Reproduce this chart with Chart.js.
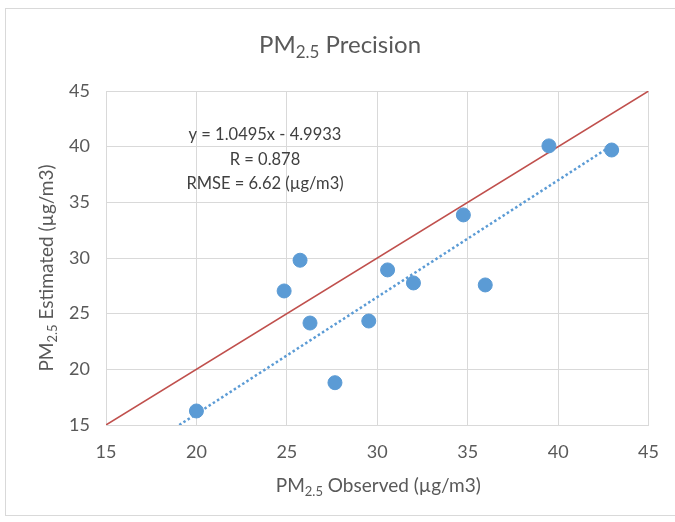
<!DOCTYPE html>
<html>
<head>
<meta charset="utf-8">
<script src="https://cdn.jsdelivr.net/npm/chart.js@4"></script>
<style>
  html, body { margin: 0; padding: 0; background: #fff; }
  #wrap { position: relative; width: 675px; height: 522px; }
</style>
</head>
<body>
<div id="wrap"><canvas id="chart" width="675" height="522"></canvas></div>
<script>
// PM2.5 observed vs estimated
var observed  = [20.0, 24.85, 25.73, 26.28, 27.66, 29.53, 30.57, 32.0, 34.76, 35.97, 39.49, 42.96];
var estimated = [16.26, 27.04, 29.8, 24.16, 18.8, 24.34, 28.93, 27.76, 33.87, 27.58, 40.07, 39.7];

// linear fit as printed on the chart
var fitSlope = 1.0495;
var fitIntercept = -4.9933;
var fitRange = [19.05, 43.0];

// 1:1 line
var oneToOne = [15, 45];

var axisTicks = [15, 20, 25, 30, 35, 40, 45];
var noteLines = ['y = 1.0495x - 4.9933', 'R = 0.878', 'RMSE = 6.62 (µg/m3)'];

var FONT = 'Lato, "Open Sans", sans-serif';
var GREY = '#595959';

// draws a string with "PM" followed by a 2.5 subscript
function drawSubText(ctx, before, sub, after, x, y, size) {
  ctx.font = size + 'px ' + FONT;
  var subSize = Math.round(size * 0.7);
  var w1 = ctx.measureText(before).width;
  var w3 = ctx.measureText(after).width;
  ctx.font = subSize + 'px ' + FONT;
  var w2 = ctx.measureText(sub).width;
  var start = x - (w1 + w2 + w3) / 2;
  ctx.textAlign = 'left';
  ctx.textBaseline = 'middle';
  ctx.font = size + 'px ' + FONT;
  ctx.fillText(before, start, y);
  ctx.font = subSize + 'px ' + FONT;
  ctx.fillText(sub, start + w1, y + size * 0.3);
  ctx.font = size + 'px ' + FONT;
  ctx.fillText(after, start + w1 + w2, y);
}

var textPlugin = {
  id: 'texts',
  beforeDraw: function (chart) {
    var ctx = chart.ctx;
    ctx.save();
    ctx.fillStyle = '#fff';
    ctx.fillRect(0, 0, chart.width, chart.height);
    ctx.strokeStyle = '#d9d9d9';
    ctx.lineWidth = 1;
    ctx.strokeRect(5.5, 8.5, 700, 507);
    ctx.restore();
  },
  afterDraw: function (chart) {
    var ctx = chart.ctx;
    var area = chart.chartArea;
    ctx.save();
    ctx.fillStyle = GREY;
    drawSubText(ctx, 'PM', '2.5', ' Precision', 340, 45, 24);
    drawSubText(ctx, 'PM', '2.5', ' Observed (µg/m3)', (area.left + area.right) / 2 + 1, 486, 19);

    ctx.save();
    ctx.translate(47, (area.top + area.bottom) / 2 + 10);
    ctx.rotate(-Math.PI / 2);
    drawSubText(ctx, 'PM', '2.5', ' Estimated (µg/m3)', 0, 0, 19);
    ctx.restore();

    ctx.fillStyle = '#404040';
    ctx.font = '16.5px ' + FONT;
    ctx.textAlign = 'center';
    ctx.textBaseline = 'middle';
    noteLines.forEach(function (line, i) {
      ctx.fillText(line, 265, 135 + i * 24.5);
    });
    ctx.restore();
  }
};

window.addEventListener('load', function () {
  var points = observed.map(function (x, i) { return { x: x, y: estimated[i] }; });
  var fitPoints = fitRange.map(function (x) { return { x: x, y: fitSlope * x + fitIntercept }; });
  var diagPoints = oneToOne.map(function (v) { return { x: v, y: v }; });

  new Chart(document.getElementById('chart'), {
    type: 'scatter',
    data: {
      datasets: [
        {
          label: 'PM2.5',
          data: points,
          backgroundColor: '#5b9bd5',
          borderColor: '#5b9bd5',
          pointRadius: 7,
          pointHoverRadius: 7,
          order: 0
        },
        {
          label: 'Linear fit',
          data: fitPoints,
          showLine: true,
          borderColor: '#5b9bd5',
          borderWidth: 2.5,
          borderDash: [2.5, 2.5],
          pointRadius: 0,
          order: 1
        },
        {
          label: '1:1',
          data: diagPoints,
          showLine: true,
          borderColor: '#c0504d',
          borderWidth: 1.5,
          pointRadius: 0,
          order: 2
        }
      ]
    },
    plugins: [textPlugin],
    options: {
      responsive: false,
      animation: false,
      layout: { padding: { left: 0, right: 24, top: 91, bottom: 0 } },
      plugins: {
        legend: { display: false },
        tooltip: { enabled: false }
      },
      scales: {
        x: {
          type: 'linear',
          min: 15,
          max: 45,
          afterBuildTicks: function (scale) {
            scale.ticks = axisTicks.map(function (v) { return { value: v }; });
          },
          afterFit: function (scale) { scale.height = 97; },
          grid: { color: '#d9d9d9', drawTicks: false },
          border: { color: '#d9d9d9' },
          ticks: { padding: 16, color: GREY, font: { family: FONT, size: 18 } }
        },
        y: {
          type: 'linear',
          min: 15,
          max: 45,
          afterBuildTicks: function (scale) {
            scale.ticks = axisTicks.map(function (v) { return { value: v }; });
          },
          afterFit: function (scale) { scale.width = 106; },
          grid: { color: '#d9d9d9', drawTicks: false },
          border: { color: '#d9d9d9' },
          ticks: { padding: 16, color: GREY, font: { family: FONT, size: 18 } }
        }
      }
    }
  });
});
</script>
</body>
</html>
